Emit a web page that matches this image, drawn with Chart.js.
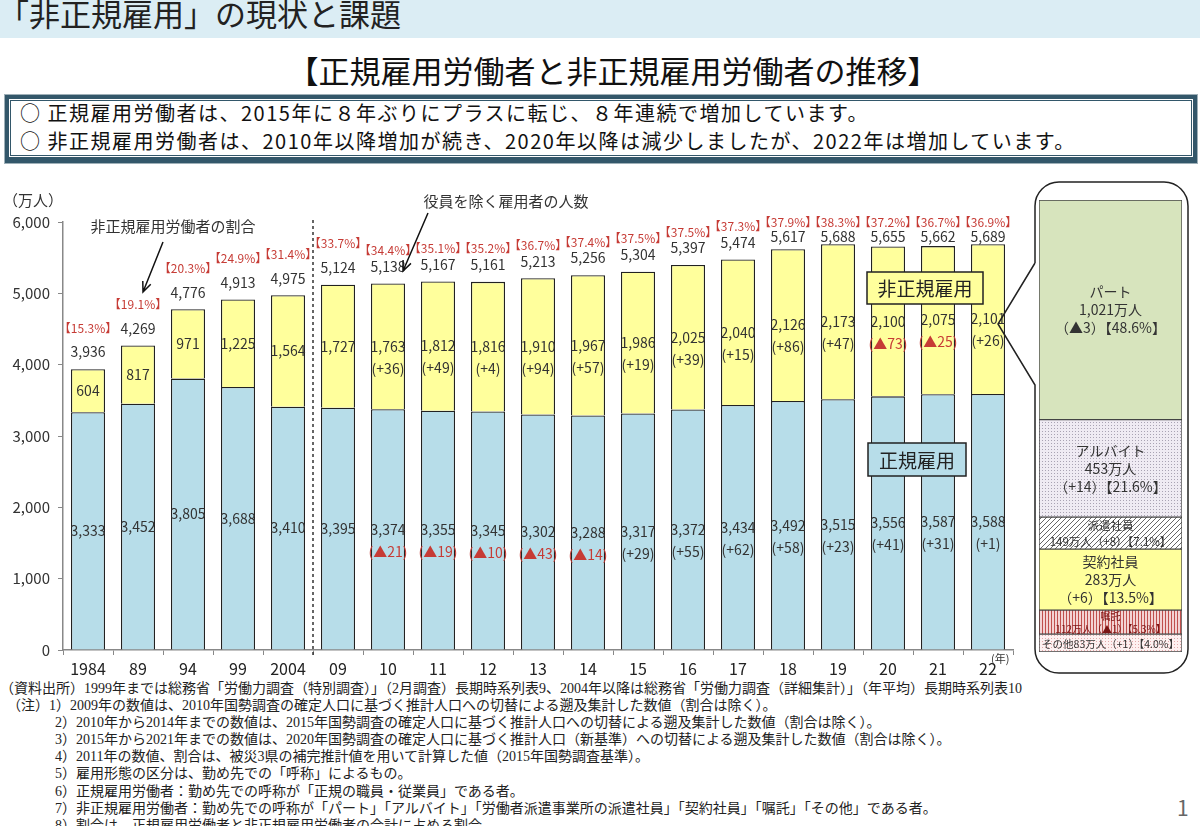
<!DOCTYPE html>
<html lang="ja">
<head>
<meta charset="utf-8">
<script src="https://cdn.jsdelivr.net/npm/chart.js"></script>
<style>
body{margin:0;width:1200px;height:826px;overflow:hidden;background:#fff;position:relative;font-family:"Noto Sans CJK JP","Noto Sans",sans-serif;color:#222;}
#band{position:absolute;left:0;top:0;width:1200px;height:38px;background:#dbedf4;}
#band span{position:absolute;left:-2px;top:-4px;font-size:31px;line-height:34px;color:#222;white-space:nowrap;}
#title{position:absolute;left:0;top:50px;width:1226px;text-align:center;font-size:31px;line-height:40px;color:#111;white-space:nowrap;}
#box{position:absolute;left:5px;top:95px;width:1192px;height:68px;box-sizing:border-box;border:4px solid #33576a;border-bottom-width:6px;box-shadow:0 0 0 1px #9fb0b8, inset 0 0 0 1px #fff, inset 0 0 0 2px #33576a;}
.pt{position:absolute;left:11px;font-size:20px;line-height:26px;letter-spacing:1.5px;white-space:nowrap;color:#111;}
#main{position:absolute;left:0;top:170px;}
#panel{position:absolute;left:1039px;top:200px;}
#notes{position:absolute;left:0;top:680px;font-family:"Liberation Serif","Noto Sans CJK JP",serif;font-size:14px;line-height:17.1px;color:#222;white-space:nowrap;}
#notes div{position:relative;}
#page{position:absolute;left:1177px;top:792px;font-size:21px;color:#666;}
</style>
</head>
<body>
<div id="band"><span>「非正規雇用」の現状と課題</span></div>
<div id="title">【正規雇用労働者と非正規雇用労働者の推移】</div>
<div id="box">
  <div class="pt" style="top:1px">○ 正規雇用労働者は、2015年に８年ぶりにプラスに転じ、８年連続で増加しています。</div>
  <div class="pt" style="top:29px">○ 非正規雇用労働者は、2010年以降増加が続き、2020年以降は減少しましたが、2022年は増加しています。</div>
</div>
<canvas id="main" width="1200" height="510"></canvas>
<canvas id="panel" width="143" height="452"></canvas>
<div id="notes">
  <div style="left:0">（資料出所）1999年までは総務省「労働力調査（特別調査）」（2月調査）長期時系列表9、2004年以降は総務省「労働力調査（詳細集計）」（年平均）長期時系列表10</div>
  <div style="left:7px">（注）1）2009年の数値は、2010年国勢調査の確定人口に基づく推計人口への切替による遡及集計した数値（割合は除く）。</div>
  <div style="left:55px">2）2010年から2014年までの数値は、2015年国勢調査の確定人口に基づく推計人口への切替による遡及集計した数値（割合は除く）。</div>
  <div style="left:55px">3）2015年から2021年までの数値は、2020年国勢調査の確定人口に基づく推計人口（新基準）への切替による遡及集計した数値（割合は除く）。</div>
  <div style="left:55px">4）2011年の数値、割合は、被災3県の補完推計値を用いて計算した値（2015年国勢調査基準）。</div>
  <div style="left:55px">5）雇用形態の区分は、勤め先での「呼称」によるもの。</div>
  <div style="left:55px">6）正規雇用労働者：勤め先での呼称が「正規の職員・従業員」である者。</div>
  <div style="left:55px">7）非正規雇用労働者：勤め先での呼称が「パート」「アルバイト」「労働者派遣事業所の派遣社員」「契約社員」「嘱託」「その他」である者。</div>
  <div style="left:55px">8）割合は、正規雇用労働者と非正規雇用労働者の合計に占める割合。</div>
</div>
<div id="page">1</div>
<script>
// data (万人)
const years = ['1984','89','94','99','2004','09','10','11','12','13','14','15','16','17','18','19','20','21','22'];
const regular = [3333,3452,3805,3688,3410,3395,3374,3355,3345,3302,3288,3317,3372,3434,3492,3515,3556,3587,3588];
const nonRegular = [604,817,971,1225,1564,1727,1763,1812,1816,1910,1967,1986,2025,2040,2126,2173,2100,2075,2101];
const totals = [3936,4269,4776,4913,4975,5124,5138,5167,5161,5213,5256,5304,5397,5474,5617,5688,5655,5662,5689];
const shares = ['15.3','19.1','20.3','24.9','31.4','33.7','34.4','35.1','35.2','36.7','37.4','37.5','37.5','37.3','37.9','38.3','37.2','36.7','36.9'];
const regularDiff = [null,null,null,null,null,null,-21,-19,-10,-43,-14,29,55,62,58,23,41,31,1];
const nonRegularDiff = [null,null,null,null,null,null,36,49,4,94,57,19,39,15,86,47,-73,-25,26];
const yTicks = [0,1000,2000,3000,4000,5000,6000];

// 2022 breakdown of non-regular employment (top to bottom)
const panelNames = ['パート','アルバイト','派遣社員','契約社員','嘱託','その他'];
const panelValues = [1021,453,149,283,112,83];
const panelDiffs = [-3,14,8,6,-1,1];
const panelShares = ['48.6','21.6','7.1','13.5','5.3','4.0'];

const FONT = '"Noto Sans CJK JP","Noto Sans",sans-serif';
const RED = '#c63b35';

function fmt(v){ return v.toLocaleString('en-US'); }

function drawDiff(ctx, d, x, y){
    if (d < 0) {
        ctx.fillStyle = RED;
        ctx.fillText('(▲' + (-d) + ')', x, y);
    } else {
        ctx.fillStyle = '#333';
        ctx.fillText('(+' + d + ')', x, y);
    }
}

function drawArrow(ctx, x1, y1, x2, y2){
    const a = Math.atan2(y2 - y1, x2 - x1);
    ctx.beginPath();
    ctx.moveTo(x1, y1);
    ctx.lineTo(x2, y2);
    ctx.moveTo(x2 - 11 * Math.cos(a - 0.4), y2 - 11 * Math.sin(a - 0.4));
    ctx.lineTo(x2, y2);
    ctx.lineTo(x2 - 11 * Math.cos(a + 0.4), y2 - 11 * Math.sin(a + 0.4));
    ctx.stroke();
}

function tagBox(ctx, text, x1, y1, x2, y2, fill){
    ctx.fillStyle = fill;
    ctx.fillRect(x1, y1, x2 - x1, y2 - y1);
    ctx.strokeStyle = '#222';
    ctx.lineWidth = 1.5;
    ctx.strokeRect(x1, y1, x2 - x1, y2 - y1);
    ctx.fillStyle = '#222';
    ctx.font = '19px ' + FONT;
    ctx.textAlign = 'center';
    ctx.textBaseline = 'middle';
    ctx.fillText(text, (x1 + x2) / 2, (y1 + y2) / 2 + 1);
}

const labelPlugin = {
    id: 'labels',
    afterDatasetsDraw(chart){
        const ctx = chart.ctx;
        const area = chart.chartArea;
        const m0 = chart.getDatasetMeta(0).data;
        const m1 = chart.getDatasetMeta(1).data;
        ctx.save();
        ctx.textAlign = 'center';
        ctx.textBaseline = 'middle';
        m0.forEach(function(bar, i){
            const b1 = m1[i];
            const c0 = (bar.y + bar.base) / 2;
            const c1 = (b1.y + b1.base) / 2;
            ctx.font = '14px ' + FONT;
            ctx.fillStyle = '#333';
            ctx.fillText(fmt(regular[i]), bar.x, c0);
            if (regularDiff[i] !== null) drawDiff(ctx, regularDiff[i], bar.x, c0 + 22);
            ctx.fillStyle = '#333';
            ctx.fillText(fmt(nonRegular[i]), b1.x, c1);
            if (nonRegularDiff[i] !== null) drawDiff(ctx, nonRegularDiff[i], b1.x, c1 + 22);
            const ty = Math.max(b1.y - 17, area.top + 15);
            ctx.fillStyle = '#333';
            ctx.fillText(fmt(totals[i]), b1.x, ty);
            const py = i < 6 ? b1.y - 41 : Math.max(ty - 16, area.top);
            ctx.font = '12px ' + FONT;
            ctx.fillStyle = RED;
            ctx.fillText('【' + shares[i] + '%】', b1.x, py);
        });
        ctx.restore();
    },
    afterDraw(chart){
        const ctx = chart.ctx;
        const area = chart.chartArea;
        const xs = chart.scales.x;
        ctx.save();
        // survey change line between 2004 and 09
        const xd = (xs.getPixelForValue(4) + xs.getPixelForValue(5)) / 2;
        ctx.strokeStyle = '#333';
        ctx.lineWidth = 1.5;
        ctx.setLineDash([3, 3]);
        ctx.beginPath();
        ctx.moveTo(xd, area.top - 2);
        ctx.lineTo(xd, area.bottom + 6);
        ctx.stroke();
        ctx.setLineDash([]);

        ctx.fillStyle = '#333';
        ctx.font = '15px ' + FONT;
        ctx.textAlign = 'left';
        ctx.textBaseline = 'middle';
        ctx.fillText('（万人）', 3, 30);
        ctx.font = '11px ' + FONT;
        ctx.fillText('(年)', 991, 489);

        ctx.font = '15px ' + FONT;
        ctx.textAlign = 'center';
        ctx.fillText('非正規雇用労働者の割合', 173, 56);
        ctx.fillText('役員を除く雇用者の人数', 506, 31);
        ctx.strokeStyle = '#111';
        ctx.lineWidth = 1.5;
        drawArrow(ctx, 163, 72, 143, 122);
        drawArrow(ctx, 428, 43, 403, 101);

        tagBox(ctx, '非正規雇用', 867, 102, 983, 134, '#ffff9c');
        tagBox(ctx, '正規雇用', 868, 273, 966, 306, '#b7dde9');

        // breakdown panel frame with pointer to the 2022 bar
        const L = 1035, R = 1188, T = 12, B = 503, r = 24;
        ctx.strokeStyle = '#222';
        ctx.lineWidth = 1.5;
        ctx.beginPath();
        ctx.moveTo(L, 93);
        ctx.lineTo(L, T + r);
        ctx.arcTo(L, T, L + r, T, r);
        ctx.lineTo(R - r, T);
        ctx.arcTo(R, T, R, T + r, r);
        ctx.lineTo(R, B - r);
        ctx.arcTo(R, B, R - r, B, r);
        ctx.lineTo(L + r, B);
        ctx.arcTo(L, B, L, B - r, r);
        ctx.lineTo(L, 215);
        ctx.lineTo(998, 154);
        ctx.lineTo(L, 93);
        ctx.stroke();
        ctx.restore();
    }
};

new Chart(document.getElementById('main').getContext('2d'), {
    type: 'bar',
    data: {
        labels: years,
        datasets: [{
            label: '正規雇用',
            data: regular,
            backgroundColor: '#b7dde9',
            borderColor: '#222',
            borderWidth: 1.3,
            barPercentage: 0.68,
            categoryPercentage: 1
        }, {
            label: '非正規雇用',
            data: nonRegular,
            backgroundColor: '#ffff9c',
            borderColor: '#222',
            borderWidth: 1.3,
            barPercentage: 0.68,
            categoryPercentage: 1
        }]
    },
    options: {
        responsive: false,
        animation: false,
        layout: { padding: { left: 0, top: 52, right: 187, bottom: 0 } },
        plugins: { legend: { display: false }, tooltip: { enabled: false } },
        scales: {
            x: {
                stacked: true,
                afterFit: function(s){ s.height = 30; },
                grid: { drawOnChartArea: false, tickLength: 5, color: '#888', offset: true },
                border: { color: '#888', width: 1.5 },
                ticks: { color: '#222', font: { size: 16, family: FONT }, padding: 4, maxRotation: 0, autoSkip: false }
            },
            y: {
                stacked: true,
                min: 0,
                max: 6000,
                afterFit: function(s){ s.width = 63; },
                afterBuildTicks: function(s){ s.ticks = yTicks.map(function(v){ return { value: v }; }); },
                grid: { drawOnChartArea: false, tickLength: 5, color: '#888' },
                border: { color: '#888', width: 1.5 },
                ticks: { color: '#333', font: { size: 15, family: FONT }, padding: 8, callback: function(v){ return fmt(v); } }
            }
        }
    },
    plugins: [labelPlugin]
});

// fill patterns for the breakdown bar
function makePattern(size, bg, draw){
    const c = document.createElement('canvas');
    c.width = size; c.height = size;
    const g = c.getContext('2d');
    g.fillStyle = bg;
    g.fillRect(0, 0, size, size);
    draw(g);
    return g.createPattern(c, 'repeat');
}
const pArbeit = makePattern(3, '#efebf3', function(g){ g.fillStyle = '#a9a3b3'; g.fillRect(0, 0, 1, 1); });
const pHaken = makePattern(5, '#ffffff', function(g){
    g.strokeStyle = '#666'; g.lineWidth = 1;
    g.beginPath(); g.moveTo(0, 5); g.lineTo(5, 0); g.moveTo(-1, 1); g.lineTo(1, -1); g.moveTo(4, 6); g.lineTo(6, 4); g.stroke();
});
const pShokutaku = makePattern(3, '#f3d3d3', function(g){ g.fillStyle = '#c0504d'; g.fillRect(0, 0, 1, 3); });
const pOther = makePattern(3, '#fdf1f1', function(g){ g.fillStyle = '#e2a9a9'; g.fillRect(0, 0, 1, 1); });
const panelFills = ['#d7e4bd', pArbeit, pHaken, '#ffff9c', pShokutaku, pOther];
const panelTotal = panelValues.reduce(function(a, b){ return a + b; }, 0);

const panelLabels = {
    id: 'panelLabels',
    afterDatasetsDraw(chart){
        const ctx = chart.ctx;
        ctx.save();
        ctx.textAlign = 'center';
        ctx.textBaseline = 'middle';
        chart.data.datasets.forEach(function(ds, di){
            const k = ds.idx;
            const el = chart.getDatasetMeta(di).data[0];
            const cy = (el.y + el.base) / 2;
            const h = Math.abs(el.base - el.y);
            const d = panelDiffs[k] < 0 ? '（▲' + (-panelDiffs[k]) + '）' : '（+' + panelDiffs[k] + '）';
            const amount = fmt(panelValues[k]) + '万人';
            const share = '【' + panelShares[k] + '%】';
            ctx.fillStyle = k === 4 ? '#7a1414' : '#333';
            if (h > 50) {
                ctx.font = '14px ' + FONT;
                ctx.fillText(panelNames[k], el.x, cy - 18);
                ctx.fillText(amount, el.x, cy);
                ctx.fillText(d + share, el.x, cy + 18);
            } else if (h > 28) {
                ctx.font = '11.5px ' + FONT;
                ctx.fillText(panelNames[k], el.x, cy - 8);
                ctx.fillText(amount + d + share, el.x, cy + 8);
            } else if (h > 20) {
                ctx.font = '10px ' + FONT;
                ctx.fillText(panelNames[k], el.x, cy - 6);
                ctx.fillText(amount + d + share, el.x, cy + 7);
            } else {
                ctx.font = '10.5px ' + FONT;
                ctx.fillText(panelNames[k] + amount + d + share, el.x, cy + 1);
            }
        });
        ctx.restore();
    }
};

const panelSets = panelNames.map(function(name, k){
    return {
        label: name,
        idx: k,
        data: [panelValues[k]],
        backgroundColor: panelFills[k],
        borderColor: '#444',
        borderWidth: 1,
        borderSkipped: false,
        barPercentage: 1,
        categoryPercentage: 1
    };
}).reverse();

new Chart(document.getElementById('panel').getContext('2d'), {
    type: 'bar',
    data: { labels: ['2022'], datasets: panelSets },
    options: {
        responsive: false,
        animation: false,
        layout: { padding: 0 },
        plugins: { legend: { display: false }, tooltip: { enabled: false } },
        scales: {
            x: { stacked: true, display: false },
            y: { stacked: true, display: false, min: 0, max: panelTotal }
        }
    },
    plugins: [panelLabels]
});
</script>
</body>
</html>
